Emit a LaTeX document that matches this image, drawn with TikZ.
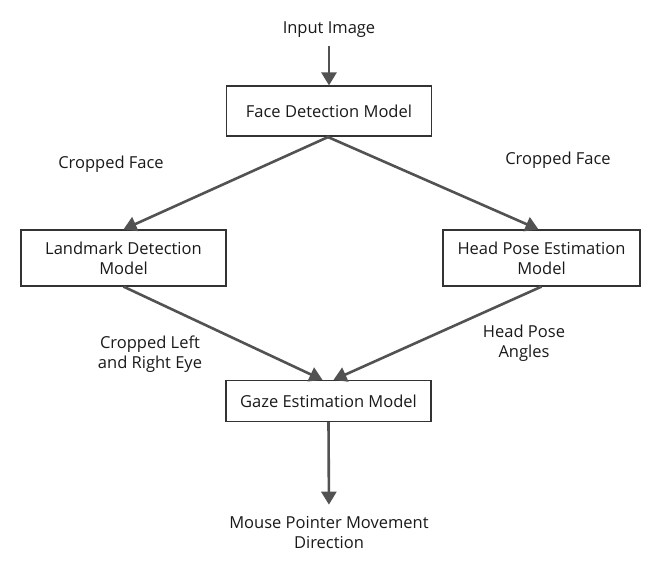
\documentclass[tikz,border=0pt]{standalone}
\usepackage{fontspec}
\setmainfont{Open Sans}
\usetikzlibrary{arrows.meta}

\begin{document}
\begin{tikzpicture}[x=1pt,y=-1pt]
    \tikzstyle{every node}=[font=\fontsize{16.5}{20}\selectfont,text=black!90]
    \tikzstyle{model}=[draw=black!80,line width=1.2pt,align=center,inner sep=0pt]
    \tikzstyle{label}=[align=center,inner sep=2pt]
    \tikzstyle{flow}=[draw=black!68,line width=2.6pt,
                      -{Triangle[width=15pt,length=13pt]}]

    \useasboundingbox (0,0) rectangle (657,566);

    % Draw model boxes
    \node [model,minimum width=205pt,minimum height=50pt] at (329,111) (face) {Face Detection Model};
    \node [model,minimum width=205pt,minimum height=56pt] at (123.5,258) (landmark) {Landmark Detection\\Model};
    \node [model,minimum width=197pt,minimum height=56pt] at (541.5,258) (headpose) {Head Pose Estimation\\Model};
    \node [model,minimum width=205pt,minimum height=41pt] at (328.5,401) (gaze) {Gaze Estimation Model};

    % Input and output texts
    \node [label] at (329,30) (input) {Input Image};
    \node [label] at (329,533) (mouse) {Mouse Pointer Movement\\Direction};

    % Edge labels
    \node [label] at (111,164) (cropleft) {Cropped Face};
    \node [label] at (558,160) (cropright) {Cropped Face};
    \node [label] at (150,354) (eyes) {Cropped Left\\and Right Eye};
    \node [label] at (524,343) (angles) {Head Pose\\Angles};

    % Draw arrows
    \draw [flow,shorten <=6pt] (input.south) -- (face.north);
    \draw [flow] (face.south) -- (landmark.north);
    \draw [flow] ([xshift=-2pt]face.south) -- ([xshift=-3pt]headpose.north);
    \draw [flow] (landmark.south) -- ([xshift=-6pt]gaze.north);
    \draw [flow] (headpose.south) -- ([xshift=5pt]gaze.north);
    \draw [flow,shorten >=10pt] (gaze.south) -- (mouse.north);
\end{tikzpicture}
\end{document}
